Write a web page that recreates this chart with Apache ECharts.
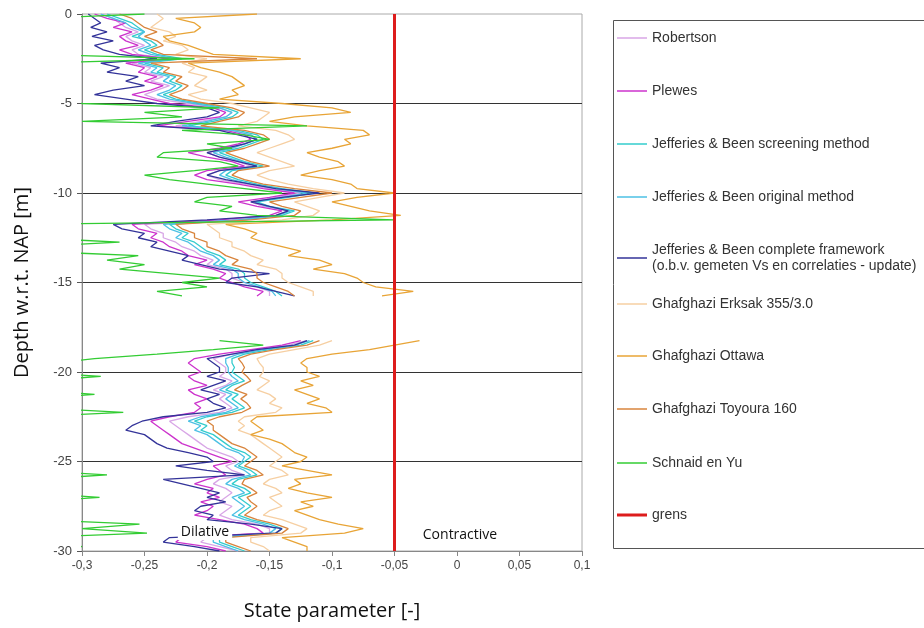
<!DOCTYPE html>
<html>
<head>
<meta charset="utf-8">
<script src="https://cdn.jsdelivr.net/npm/echarts@6/dist/echarts.min.js"></script>
<style>
  html, body { margin: 0; padding: 0; background: #fff; }
  #chart { width: 924px; height: 628px; }
</style>
</head>
<body>
<div id="chart"></div>
<script>
// Depth below NAP [m], one reading every 0.25 m (no readings between -16 and -18 m)
const depths = [
  0, -0.25, -0.5, -0.75, -1, -1.25, -1.5, -1.75, -2, -2.25, -2.5, -2.75, -3, -3.25, -3.5, -3.75, -4, -4.25, -4.5, -4.75,
  -5, -5.25, -5.5, -5.75, -6, -6.25, -6.5, -6.75, -7, -7.25, -7.5, -7.75, -8, -8.25, -8.5, -8.75, -9, -9.25, -9.5, -9.75,
  -10, -10.25, -10.5, -10.75, -11, -11.25, -11.5, -11.75, -12, -12.25, -12.5, -12.75, -13, -13.25, -13.5, -13.75, -14, -14.25, -14.5, -14.75,
  -15, -15.25, -15.5, -15.75, -16, -16.25, -16.5, -16.75, -17, -17.25, -17.5, -17.75, -18, -18.25, -18.5, -18.75, -19, -19.25, -19.5, -19.75,
  -20, -20.25, -20.5, -20.75, -21, -21.25, -21.5, -21.75, -22, -22.25, -22.5, -22.75, -23, -23.25, -23.5, -23.75, -24, -24.25, -24.5, -24.75,
  -25, -25.25, -25.5, -25.75, -26, -26.25, -26.5, -26.75, -27, -27.25, -27.5, -27.75, -28, -28.25, -28.5, -28.75, -29, -29.25, -29.5, -29.75, -30
];

// State parameter per method, same order as depths
const robertson = [
  -0.285,-0.275,-0.27,-0.265,-0.255,-0.265,-0.26,-0.25,-0.26,-0.255,-0.23,-0.26,-0.245,-0.25,-0.235,-0.245,-0.23,-0.24,-0.25,-0.24,
  -0.215,-0.19,-0.18,-0.185,-0.205,-0.225,-0.18,-0.165,-0.16,-0.17,-0.18,-0.2,-0.19,-0.175,-0.165,-0.19,-0.2,-0.19,-0.17,-0.15,
  -0.125,-0.145,-0.165,-0.155,-0.135,-0.145,-0.18,-0.25,-0.245,-0.235,-0.235,-0.225,-0.22,-0.21,-0.205,-0.195,-0.2,-0.185,-0.18,-0.18,
  -0.17,-0.16,-0.15,-0.15,null,null,null,null,null,null,null,null,null,-0.12,-0.135,-0.16,-0.18,-0.195,-0.19,-0.185,
  -0.185,-0.19,-0.18,-0.185,-0.195,-0.185,-0.19,-0.185,-0.18,-0.19,-0.215,-0.23,-0.225,-0.22,-0.215,-0.21,-0.205,-0.2,-0.19,-0.18,
  -0.175,-0.185,-0.18,-0.17,-0.19,-0.195,-0.185,-0.18,-0.185,-0.19,-0.18,-0.185,-0.19,-0.18,-0.16,-0.15,-0.15,-0.2,-0.205,-0.19,-0.175
];
const plewes = [
  -0.29,-0.28,-0.265,-0.275,-0.26,-0.27,-0.265,-0.255,-0.27,-0.26,-0.23,-0.265,-0.25,-0.255,-0.24,-0.25,-0.235,-0.245,-0.26,-0.245,
  -0.23,-0.195,-0.185,-0.19,-0.215,-0.24,-0.185,-0.17,-0.165,-0.175,-0.19,-0.215,-0.2,-0.18,-0.17,-0.2,-0.21,-0.2,-0.175,-0.155,
  -0.13,-0.15,-0.175,-0.16,-0.14,-0.15,-0.19,-0.26,-0.255,-0.24,-0.245,-0.235,-0.23,-0.22,-0.215,-0.2,-0.21,-0.195,-0.185,-0.19,
  -0.18,-0.17,-0.155,-0.16,null,null,null,null,null,null,null,null,null,-0.125,-0.14,-0.165,-0.19,-0.21,-0.215,-0.21,
  -0.205,-0.215,-0.21,-0.2,-0.215,-0.21,-0.2,-0.21,-0.205,-0.21,-0.23,-0.245,-0.24,-0.235,-0.23,-0.225,-0.22,-0.21,-0.2,-0.19,
  -0.18,-0.195,-0.19,-0.185,-0.2,-0.21,-0.195,-0.2,-0.19,-0.205,-0.195,-0.2,-0.21,-0.19,-0.17,-0.16,-0.155,-0.22,-0.225,-0.2,-0.185
];
const jbScreening = [
  -0.28,-0.27,-0.26,-0.255,-0.25,-0.26,-0.245,-0.24,-0.25,-0.24,-0.22,-0.25,-0.235,-0.24,-0.225,-0.23,-0.22,-0.225,-0.235,-0.225,
  -0.205,-0.185,-0.175,-0.18,-0.195,-0.215,-0.175,-0.16,-0.155,-0.165,-0.175,-0.19,-0.18,-0.17,-0.155,-0.18,-0.185,-0.175,-0.16,-0.14,
  -0.115,-0.135,-0.16,-0.15,-0.13,-0.14,-0.17,-0.23,-0.225,-0.215,-0.22,-0.21,-0.205,-0.2,-0.19,-0.185,-0.19,-0.175,-0.17,-0.17,
  -0.165,-0.155,-0.145,-0.14,null,null,null,null,null,null,null,null,null,-0.115,-0.125,-0.15,-0.17,-0.18,-0.18,-0.178,
  -0.18,-0.175,-0.17,-0.18,-0.185,-0.175,-0.18,-0.175,-0.17,-0.18,-0.2,-0.21,-0.2,-0.205,-0.195,-0.19,-0.185,-0.18,-0.17,-0.165,
  -0.17,-0.175,-0.165,-0.16,-0.175,-0.18,-0.17,-0.165,-0.175,-0.17,-0.165,-0.17,-0.175,-0.165,-0.15,-0.14,-0.145,-0.19,-0.19,-0.18,-0.17
];
const jbOriginal = [
  -0.285,-0.275,-0.265,-0.26,-0.25,-0.255,-0.25,-0.245,-0.255,-0.245,-0.225,-0.255,-0.24,-0.245,-0.23,-0.235,-0.225,-0.23,-0.24,-0.23,
  -0.21,-0.19,-0.18,-0.185,-0.2,-0.22,-0.18,-0.165,-0.16,-0.17,-0.18,-0.195,-0.185,-0.172,-0.16,-0.185,-0.19,-0.18,-0.165,-0.145,
  -0.12,-0.14,-0.162,-0.152,-0.133,-0.143,-0.175,-0.235,-0.23,-0.22,-0.225,-0.215,-0.21,-0.205,-0.195,-0.19,-0.195,-0.18,-0.175,-0.175,
  -0.17,-0.158,-0.148,-0.145,null,null,null,null,null,null,null,null,null,-0.118,-0.13,-0.155,-0.175,-0.185,-0.185,-0.183,
  -0.183,-0.18,-0.175,-0.183,-0.19,-0.18,-0.185,-0.18,-0.175,-0.185,-0.205,-0.215,-0.205,-0.21,-0.2,-0.195,-0.19,-0.185,-0.175,-0.17,
  -0.172,-0.178,-0.17,-0.165,-0.18,-0.185,-0.175,-0.17,-0.18,-0.175,-0.17,-0.175,-0.18,-0.17,-0.155,-0.145,-0.15,-0.195,-0.195,-0.185,-0.175
];
const jbComplete = [
  -0.295,-0.29,-0.285,-0.293,-0.28,-0.292,-0.275,-0.29,-0.283,-0.27,-0.24,-0.285,-0.27,-0.28,-0.255,-0.265,-0.25,-0.275,-0.29,-0.265,
  -0.24,-0.2,-0.19,-0.2,-0.225,-0.245,-0.19,-0.175,-0.16,-0.17,-0.185,-0.2,-0.19,-0.175,-0.16,-0.19,-0.2,-0.185,-0.165,-0.145,
  -0.11,-0.14,-0.165,-0.15,-0.135,-0.145,-0.2,-0.275,-0.268,-0.25,-0.255,-0.24,-0.245,-0.23,-0.215,-0.22,-0.205,-0.19,-0.15,-0.18,
  -0.185,-0.16,-0.145,-0.13,null,null,null,null,null,null,null,null,null,-0.12,-0.13,-0.16,-0.18,-0.2,-0.195,-0.19,
  -0.19,-0.2,-0.185,-0.195,-0.205,-0.19,-0.2,-0.195,-0.185,-0.2,-0.235,-0.252,-0.26,-0.265,-0.25,-0.245,-0.24,-0.232,-0.215,-0.2,
  -0.195,-0.225,-0.2,-0.17,-0.235,-0.22,-0.205,-0.19,-0.2,-0.185,-0.205,-0.21,-0.195,-0.2,-0.165,-0.14,-0.145,-0.23,-0.235,-0.21,-0.19
];
const erksak = [
  -0.24,-0.235,-0.24,-0.245,-0.23,-0.225,-0.235,-0.22,-0.215,-0.225,-0.2,-0.22,-0.21,-0.215,-0.2,-0.205,-0.21,-0.2,-0.215,-0.205,
  -0.18,-0.165,-0.15,-0.155,-0.16,-0.175,-0.145,-0.135,-0.13,-0.14,-0.15,-0.16,-0.15,-0.14,-0.13,-0.15,-0.16,-0.15,-0.135,-0.115,
  -0.09,-0.11,-0.13,-0.12,-0.11,-0.115,-0.14,-0.2,-0.195,-0.19,-0.19,-0.18,-0.18,-0.17,-0.165,-0.155,-0.16,-0.145,-0.14,-0.14,
  -0.135,-0.125,-0.115,-0.115,null,null,null,null,null,null,null,null,null,-0.1,-0.11,-0.13,-0.15,-0.16,-0.158,-0.155,
  -0.155,-0.158,-0.15,-0.155,-0.16,-0.15,-0.145,-0.15,-0.14,-0.145,-0.17,-0.175,-0.17,-0.175,-0.165,-0.16,-0.155,-0.15,-0.145,-0.14,
  -0.145,-0.15,-0.14,-0.135,-0.15,-0.155,-0.145,-0.14,-0.15,-0.145,-0.14,-0.15,-0.155,-0.14,-0.13,-0.12,-0.125,-0.165,-0.165,-0.155,-0.15
];
const ottawa = [
  -0.16,-0.225,-0.21,-0.205,-0.21,-0.235,-0.23,-0.215,-0.205,-0.195,-0.125,-0.215,-0.205,-0.19,-0.18,-0.175,-0.17,-0.18,-0.175,-0.19,
  -0.14,-0.1,-0.085,-0.13,-0.15,-0.12,-0.075,-0.07,-0.09,-0.085,-0.1,-0.12,-0.11,-0.095,-0.09,-0.11,-0.125,-0.1,-0.085,-0.08,
  -0.05,-0.08,-0.1,-0.085,-0.07,-0.045,-0.1,-0.185,-0.17,-0.16,-0.165,-0.155,-0.14,-0.125,-0.135,-0.11,-0.1,-0.115,-0.09,-0.08,
  -0.075,-0.065,-0.035,-0.06,null,null,null,null,null,null,null,null,null,-0.03,-0.05,-0.07,-0.1,-0.12,-0.125,-0.12,
  -0.12,-0.11,-0.125,-0.115,-0.13,-0.12,-0.11,-0.12,-0.105,-0.1,-0.16,-0.165,-0.16,-0.155,-0.165,-0.15,-0.14,-0.135,-0.13,-0.12,
  -0.125,-0.14,-0.12,-0.1,-0.13,-0.125,-0.135,-0.12,-0.1,-0.125,-0.115,-0.13,-0.12,-0.11,-0.095,-0.075,-0.09,-0.14,-0.13,-0.12,-0.12
];
const toyoura = [
  -0.27,-0.26,-0.255,-0.25,-0.24,-0.25,-0.24,-0.235,-0.245,-0.235,-0.16,-0.245,-0.23,-0.235,-0.22,-0.225,-0.215,-0.22,-0.23,-0.22,
  -0.2,-0.18,-0.17,-0.175,-0.19,-0.205,-0.17,-0.155,-0.15,-0.16,-0.17,-0.185,-0.175,-0.165,-0.15,-0.175,-0.18,-0.17,-0.155,-0.13,
  -0.1,-0.125,-0.15,-0.14,-0.125,-0.13,-0.165,-0.225,-0.22,-0.21,-0.21,-0.2,-0.2,-0.19,-0.185,-0.175,-0.18,-0.165,-0.16,-0.16,
  -0.155,-0.145,-0.135,-0.13,null,null,null,null,null,null,null,null,null,-0.11,-0.12,-0.145,-0.165,-0.175,-0.172,-0.17,
  -0.172,-0.168,-0.165,-0.172,-0.178,-0.168,-0.173,-0.168,-0.165,-0.172,-0.19,-0.2,-0.195,-0.195,-0.19,-0.185,-0.18,-0.17,-0.165,-0.16,
  -0.165,-0.17,-0.16,-0.155,-0.17,-0.172,-0.165,-0.16,-0.168,-0.165,-0.16,-0.165,-0.17,-0.16,-0.145,-0.135,-0.14,-0.185,-0.185,-0.175,-0.165
];
const schnaidYu = [
  -0.25,-0.34,-0.34,-0.34,-0.34,-0.34,-0.34,-0.34,-0.34,-0.34,-0.21,-0.34,-0.34,-0.34,-0.34,-0.34,-0.34,-0.34,-0.34,-0.34,
  -0.3,-0.19,-0.25,-0.22,-0.3,-0.12,-0.22,-0.17,-0.15,-0.2,-0.18,-0.235,-0.24,-0.19,-0.175,-0.21,-0.25,-0.23,-0.2,-0.17,
  -0.14,-0.2,-0.21,-0.18,-0.19,-0.16,-0.05,-0.34,-0.34,-0.34,-0.34,-0.27,-0.34,-0.34,-0.255,-0.28,-0.25,-0.27,-0.23,-0.19,
  -0.22,-0.2,-0.24,-0.22,null,null,null,null,null,null,null,null,null,-0.19,-0.155,-0.195,-0.24,-0.29,-0.32,-0.34,
  -0.34,-0.285,-0.34,-0.34,-0.34,-0.29,-0.34,-0.34,-0.34,-0.267,-0.34,-0.34,-0.34,-0.34,-0.34,-0.34,-0.34,-0.34,-0.34,-0.34,
  -0.34,-0.34,-0.34,-0.28,-0.34,-0.34,-0.34,-0.34,-0.286,-0.34,-0.34,-0.34,-0.34,-0.34,-0.254,-0.3,-0.248,-0.34,-0.34,-0.3,-0.34
];

// Boundary between dilative and contractive behaviour
const grensValue = [-0.05, -0.05];
const grensDepth = [0, -30];

// Axis ticks
const stateTicks = [-0.3, -0.25, -0.2, -0.15, -0.1, -0.05, 0, 0.05, 0.1];
const depthTicks = [-30, -25, -20, -15, -10, -5, 0];

const methods = [
  { name: 'Robertson', values: robertson, color: '#d8a6e6' },
  { name: 'Plewes', values: plewes, color: '#cc33cc' },
  { name: 'Jefferies & Been screening method', values: jbScreening, color: '#33cccc' },
  { name: 'Jefferies & Been original method', values: jbOriginal, color: '#4cc0e4' },
  { name: 'Jefferies & Been complete framework\n(o.b.v. gemeten Vs en correlaties - update)', values: jbComplete, color: '#333399' },
  { name: 'Ghafghazi Erksak 355/3.0', values: erksak, color: '#f6cfa2' },
  { name: 'Ghafghazi Ottawa', values: ottawa, color: '#e8a436' },
  { name: 'Ghafghazi Toyoura 160', values: toyoura, color: '#d8843c' },
  { name: 'Schnaid en Yu', values: schnaidYu, color: '#33cc33' }
];

function profile(values) {
  return depths.map((d, i) => [values[i] === null ? null : values[i], d]);
}

const series = methods.map(m => ({
  name: m.name,
  type: 'line',
  data: profile(m.values),
  symbol: 'none',
  connectNulls: false,
  clip: true,
  lineStyle: { color: m.color, width: 1.3 },
  itemStyle: { color: m.color },
  z: 2
}));
series.push({
  name: 'grens',
  type: 'line',
  data: grensValue.map((v, i) => [v, grensDepth[i]]),
  symbol: 'none',
  lineStyle: { color: '#dd1c1c', width: 3 },
  itemStyle: { color: '#dd1c1c' },
  z: 3
});

// One legend block per entry so each line sits on its own row
const legendRowTops = [30, 83, 136, 189, 242, 296, 348, 401, 455, 507];
const legendNames = series.map(s => s.name);
const legends = legendNames.map((n, i) => ({
  data: [n],
  orient: 'vertical',
  left: 617,
  top: legendRowTops[i],
  padding: 0,
  icon: 'rect',
  itemWidth: 30,
  itemHeight: n === 'grens' ? 3 : 1.5,
  selectedMode: false,
  textStyle: { color: '#333', fontSize: 14, lineHeight: 16, fontFamily: 'Liberation Sans, Arial, sans-serif' }
}));

function commaDecimal(v) {
  return String(+v.toFixed(2)).replace('.', ',');
}

const chart = echarts.init(document.getElementById('chart'), null, { renderer: 'canvas' });
chart.setOption({
  animation: false,
  backgroundColor: '#fff',
  grid: { left: 82, right: 342, top: 14, bottom: 77, show: true, borderColor: '#aaa', borderWidth: 1 },
  legend: legends,
  xAxis: {
    type: 'value',
    min: stateTicks[0],
    max: stateTicks[stateTicks.length - 1],
    interval: 0.05,
    axisLine: { show: true, onZero: false, lineStyle: { color: '#888' } },
    axisTick: { show: true, length: 5, lineStyle: { color: '#888' } },
    axisLabel: { formatter: commaDecimal, color: '#444', fontSize: 12, margin: 9, fontFamily: 'Liberation Sans, Arial, sans-serif' },
    splitLine: { show: false },
    name: 'State parameter [-]',
    nameLocation: 'middle',
    nameGap: 50,
    nameTextStyle: { fontSize: 20, color: '#111', fontFamily: 'Open Sans, sans-serif' }
  },
  yAxis: {
    type: 'value',
    min: depthTicks[0],
    max: depthTicks[depthTicks.length - 1],
    interval: 5,
    axisLine: { show: true, onZero: false, lineStyle: { color: '#888' } },
    axisTick: { show: true, length: 5, lineStyle: { color: '#555' } },
    axisLabel: { color: '#444', fontSize: 13, margin: 10, fontFamily: 'Liberation Sans, Arial, sans-serif' },
    splitLine: { show: true, showMinLine: false, showMaxLine: false, lineStyle: { color: '#333', width: 1 } },
    name: 'Depth w.r.t. NAP [m]',
    nameLocation: 'middle',
    nameGap: 50,
    nameTextStyle: { fontSize: 20, color: '#111', fontFamily: 'Open Sans, sans-serif' }
  },
  series: series,
  graphic: [
    {
      type: 'rect',
      z: 0,
      shape: { x: 613.5, y: 20.5, width: 330, height: 528 },
      style: { fill: '#fff', stroke: '#555', lineWidth: 1 }
    },
    {
      type: 'text',
      z: 50,
      x: 205, y: 532,
      style: {
        text: 'Dilative', fill: '#111', font: '14px "Open Sans", sans-serif',
        align: 'center', verticalAlign: 'middle',
        backgroundColor: '#fff', padding: [1, 3]
      }
    },
    {
      type: 'text',
      z: 50,
      x: 460, y: 535,
      style: {
        text: 'Contractive', fill: '#111', font: '14px "Open Sans", sans-serif',
        align: 'center', verticalAlign: 'middle'
      }
    }
  ]
});
</script>
</body>
</html>
